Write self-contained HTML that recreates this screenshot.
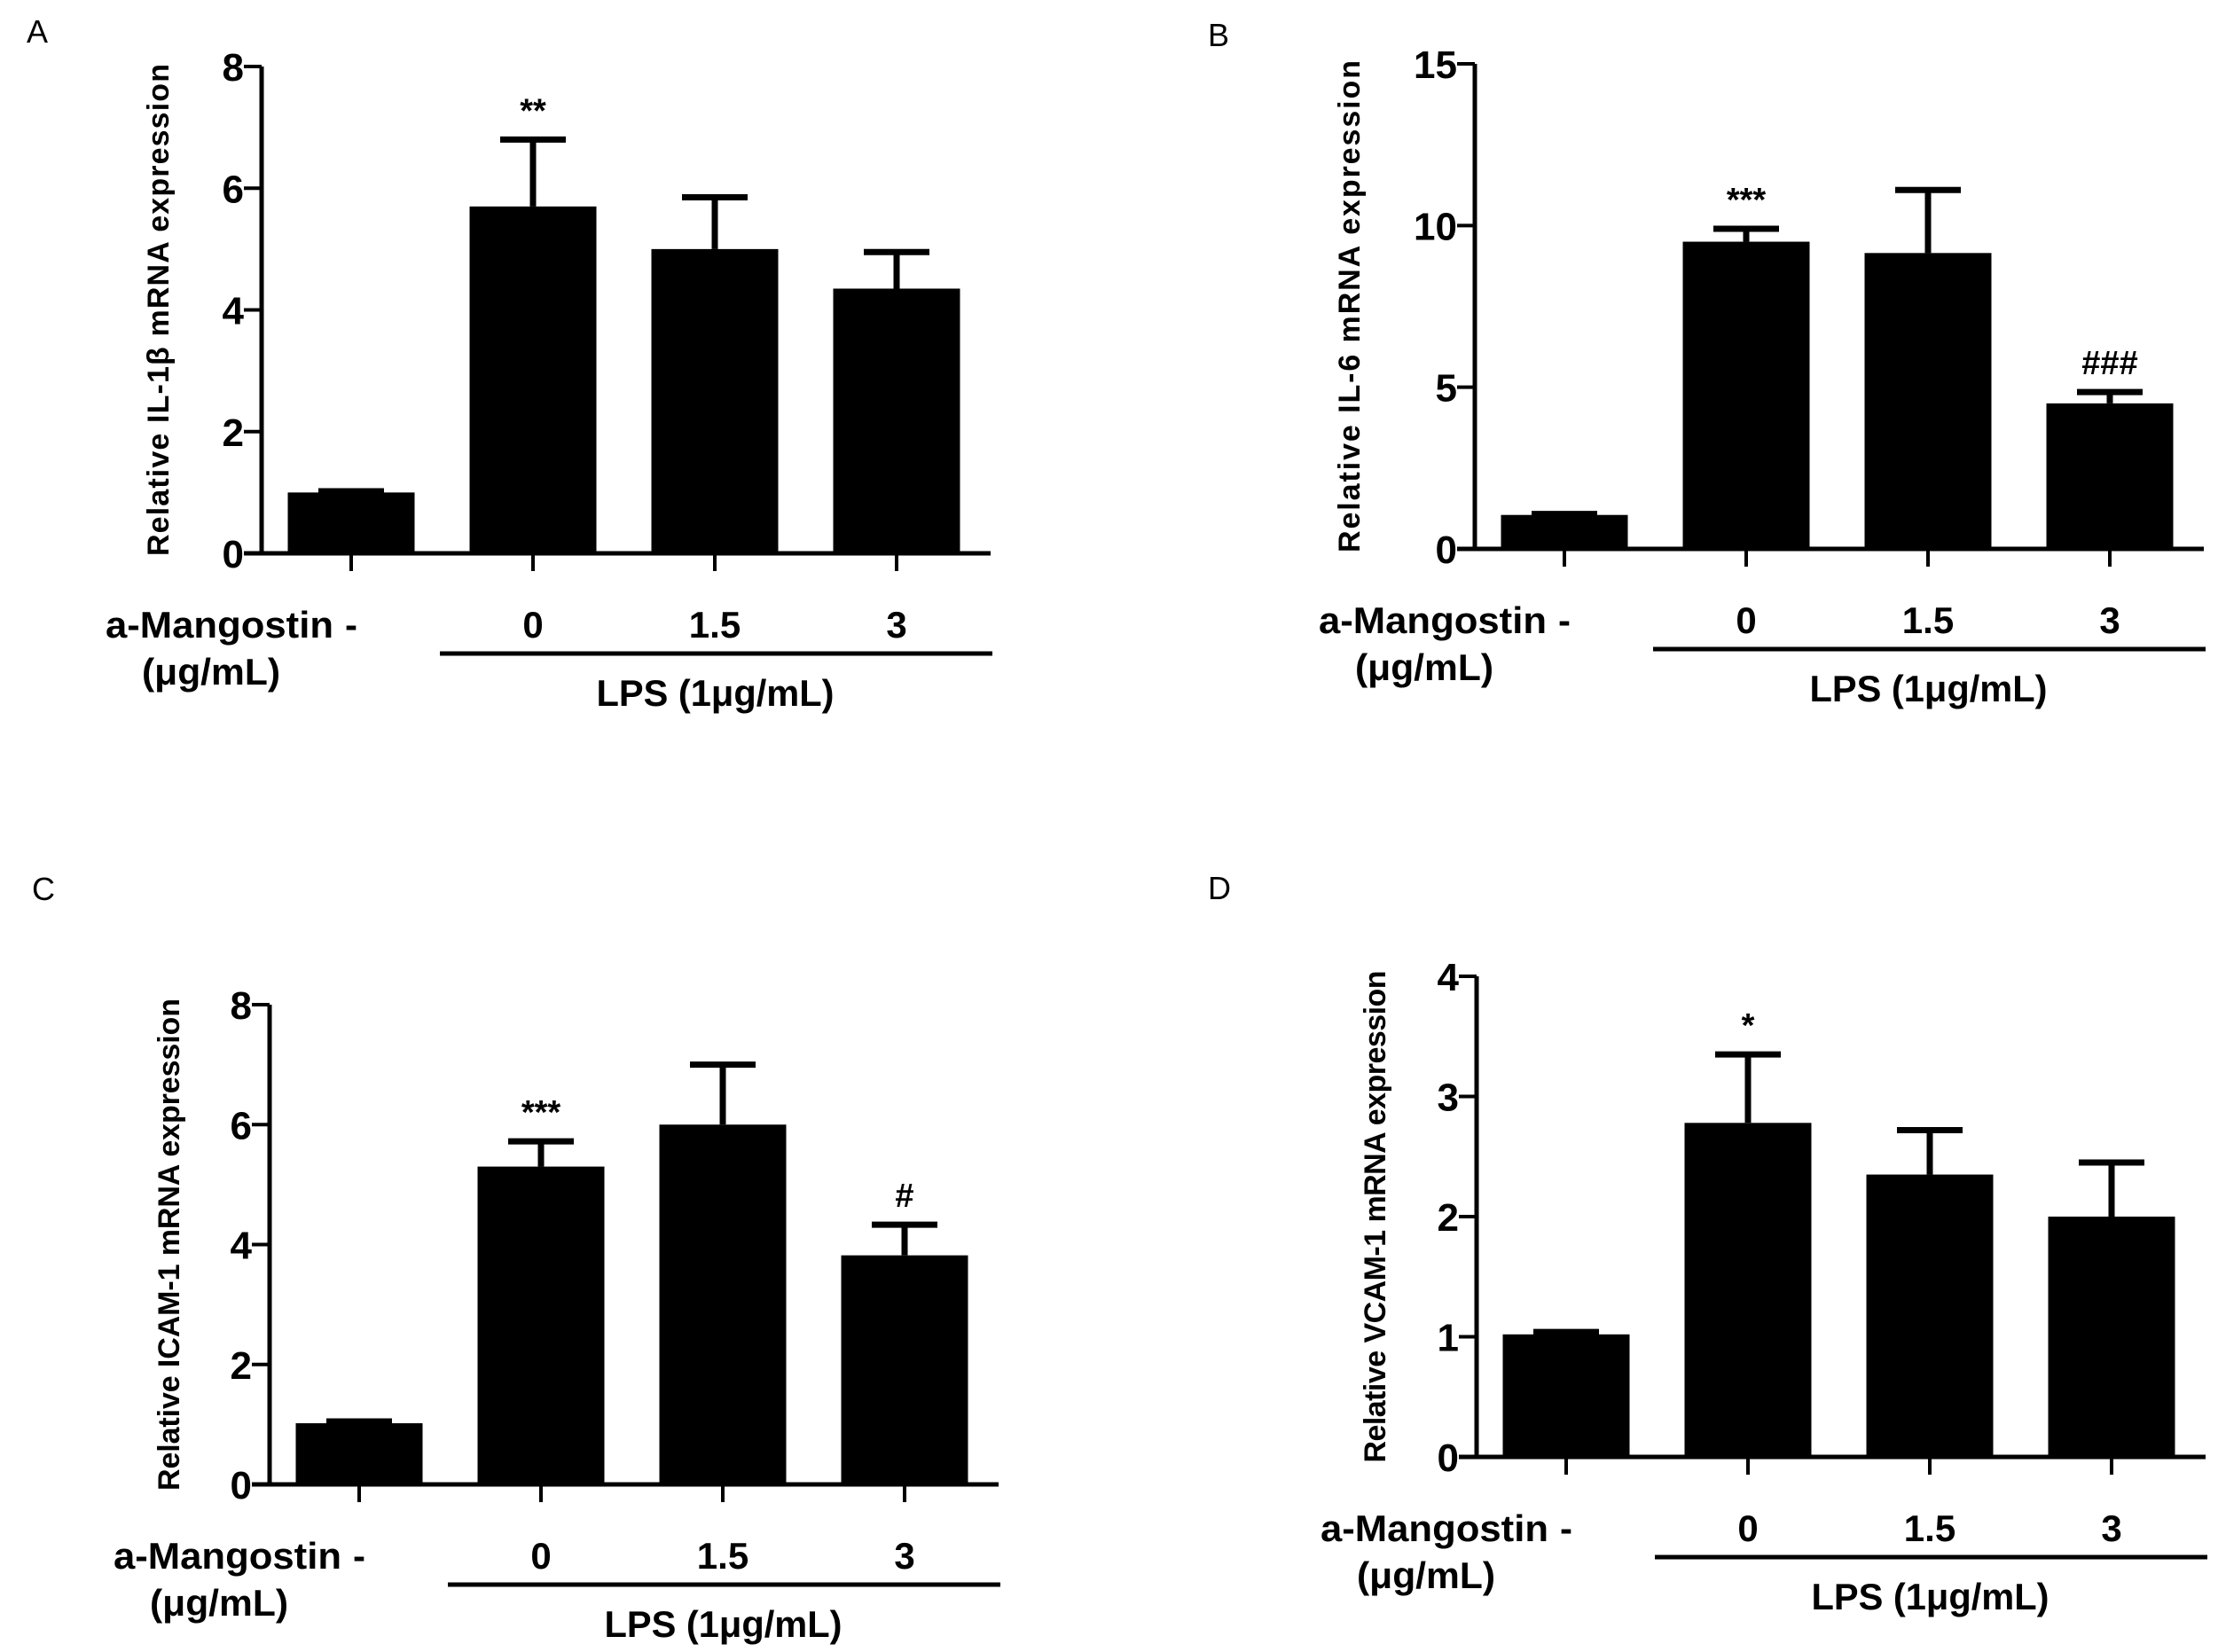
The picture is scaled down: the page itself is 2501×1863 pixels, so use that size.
<!DOCTYPE html>
<html><head><meta charset="utf-8"><style>
html,body{margin:0;padding:0;background:#fff;}
svg{display:block;}
text{font-family:"Liberation Sans","Noto Sans CJK KR",sans-serif;fill:#000;}
</style></head>
<body>
<svg id="fig" width="2501" height="1863" viewBox="0 0 2501 1863" xmlns="http://www.w3.org/2000/svg"></svg>
<script>
// ---- data ----
const categories = ["-", "0", "1.5", "3"];
const panelLetters = ["A", "B", "C", "D"];
const yTitles = ["Relative IL-1β mRNA expression", "Relative IL-6 mRNA expression", "Relative ICAM-1 mRNA expression", "Relative VCAM-1 mRNA expression"];
const valuesA = [1.0, 5.7, 5.0, 4.35];
const errTopA = [1.02, 6.8, 5.85, 4.95];
const valuesB = [1.05, 9.5, 9.15, 4.5];
const errTopB = [1.08, 9.9, 11.1, 4.85];
const valuesC = [1.02, 5.3, 6.0, 3.82];
const errTopC = [1.05, 5.72, 7.0, 4.33];
const valuesD = [1.02, 2.78, 2.35, 2.0];
const errTopD = [1.04, 3.35, 2.72, 2.45];
const ticksA = [0, 2, 4, 6, 8];
const ticksB = [0, 5, 10, 15];
const ticksC = [0, 2, 4, 6, 8];
const ticksD = [0, 1, 2, 3, 4];
const marksA = ["", "**", "", ""];
const marksB = ["", "***", "", "###"];
const marksC = ["", "***", "", "#"];
const marksD = ["", "*", "", ""];

// ---- layout (not data) ----
const panels = [
  {key:"a", ax:295, y0:624, yTop:75, letterX:30, letterY:48, titleX:178, vals:valuesA, errs:errTopA, ticks:ticksA, marks:marksA},
  {key:"b", ax:1663, y0:619, yTop:72, letterX:1362, letterY:52, titleX:1521, vals:valuesB, errs:errTopB, ticks:ticksB, marks:marksB},
  {key:"c", ax:304, y0:1674, yTop:1133, letterX:36, letterY:1015, titleX:190, vals:valuesC, errs:errTopC, ticks:ticksC, marks:marksC},
  {key:"d", ax:1665, y0:1643, yTop:1101, letterX:1362, letterY:1014, titleX:1550, vals:valuesD, errs:errTopD, ticks:ticksD, marks:marksD}
];
const NS = "http://www.w3.org/2000/svg";
const svg = document.getElementById("fig");
function mk(tag, attrs, parent) {
  const e = document.createElementNS(NS, tag);
  for (const k in attrs) e.setAttribute(k, attrs[k]);
  (parent || svg).appendChild(e);
  return e;
}
panels.forEach((p, pi) => {
  const g = mk("g", {});
  
  
  const yMax = p.ticks[p.ticks.length - 1];
  const yS = v => p.y0 - (v / yMax) * (p.y0 - p.yTop);
  const band = 205, off = 101, bw = 143;
  const xC = i => p.ax + off + i * band;
  const axEnd = p.ax + 822;

  const letter = mk("text", {x:p.letterX, y:p.letterY, "font-size":36}, g);
  letter.textContent = panelLetters[pi];
  
  

  p.vals.forEach((v, i) => {
    const r = mk("rect", {x:xC(i) - bw/2, y:yS(v), width:bw, height:p.y0 - yS(v), fill:"#000"}, g);
    
    
    const et = yS(p.errs[i]);
    const eb = mk("path", {d:`M${xC(i)} ${yS(v)} V${et} M${xC(i)-37} ${et} H${xC(i)+37}`, stroke:"#000", "stroke-width":7, fill:"none"}, g);
    
    
    if (p.marks[i]) {
      const m = mk("text", {x:xC(i), y:et - 20, "font-size":38, "text-anchor":"middle", "font-weight":"bold"}, g);
      m.textContent = p.marks[i];
      
      
    }
  });

  const ya = mk("path", {d:`M${p.ax} ${p.yTop} V${p.y0}`, stroke:"#000", "stroke-width":5, fill:"none"}, g);
  
  
  p.ticks.forEach(t => {
    const tk = mk("path", {d:`M${p.ax-20} ${yS(t)} H${p.ax}`, stroke:"#000", "stroke-width":4}, g);
    
    
    const tl = mk("text", {x:p.ax - 20, y:yS(t) + 16, "font-size":44, "font-weight":"bold", "text-anchor":"end"}, g);
    tl.textContent = t;
    
    
  });
  const xa = mk("path", {d:`M${p.ax-20} ${p.y0} H${axEnd}`, stroke:"#000", "stroke-width":5, fill:"none"}, g);
  
  
  categories.forEach((c, i) => {
    const tk = mk("path", {d:`M${xC(i)} ${p.y0} V${p.y0+20}`, stroke:"#000", "stroke-width":4}, g);
    
    
    const cl = mk("text", {x:xC(i), y:p.y0 + 95, "font-size":42, "font-weight":"bold", "text-anchor":"middle"}, g);
    cl.textContent = c;
    
    
  });
  const midY = (p.y0 + p.yTop) / 2;
  const yt = mk("text", {x:p.titleX, y:midY, "font-size":34, "font-weight":"bold", "text-anchor":"middle", transform:`rotate(-90 ${p.titleX} ${midY})`, textLength:555, lengthAdjust:"spacing"}, g);
  yt.setAttribute("dy", "12");
  yt.textContent = yTitles[pi];
  
  
  const am = mk("text", {x:xC(0) - 20, y:p.y0 + 95, "font-size":42, "font-weight":"bold", "text-anchor":"end", textLength:257, lengthAdjust:"spacingAndGlyphs"}, g);
  am.textContent = "a-Mangostin";
  
  
  const un = mk("text", {x:xC(0) - 158, y:p.y0 + 148, "font-size":42, "font-weight":"bold", "text-anchor":"middle", textLength:156, lengthAdjust:"spacingAndGlyphs"}, g);
  un.textContent = "(μg/mL)";
  
  
  const ln = mk("path", {d:`M${xC(1)-105} ${p.y0+113} H${axEnd+2}`, stroke:"#000", "stroke-width":5}, g);
  
  
  const lps = mk("text", {x:(xC(1) - 105 + axEnd) / 2, y:p.y0 + 172, "font-size":42, "font-weight":"bold", "text-anchor":"middle", textLength:268, lengthAdjust:"spacingAndGlyphs"}, g);
  lps.textContent = "LPS (1μg/mL)";
  
  
});
</script>
</body></html>
